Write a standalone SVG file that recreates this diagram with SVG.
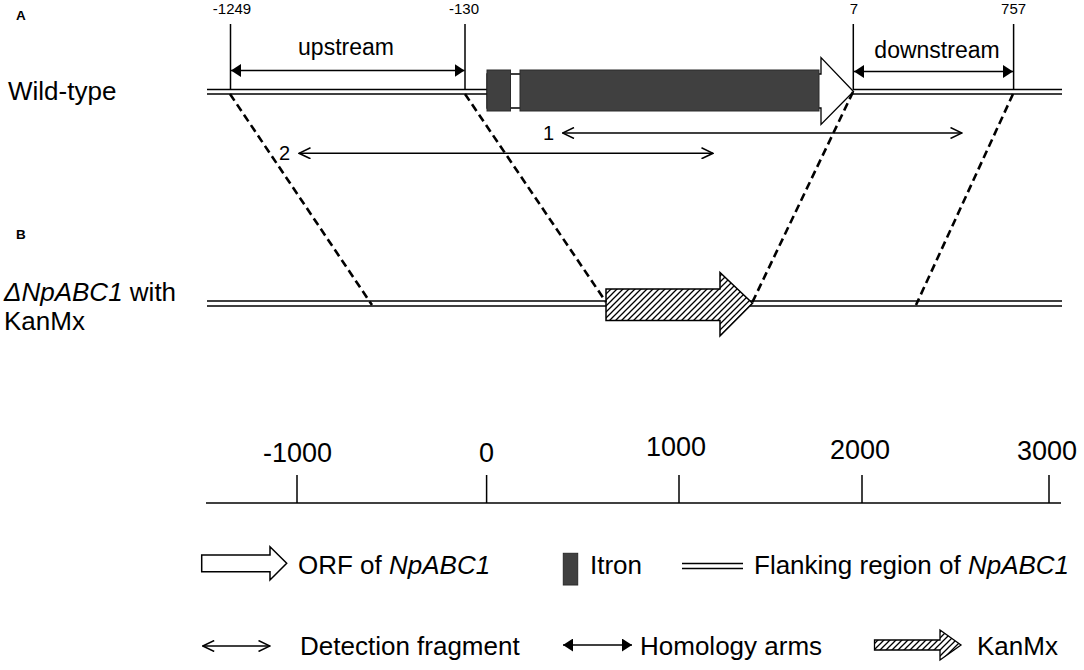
<svg xmlns="http://www.w3.org/2000/svg" width="1084" height="670" viewBox="0 0 1084 670">
<style>
text{font-family:"Liberation Sans",Arial,sans-serif;fill:#000}
.lab{font-size:13.5px;font-weight:bold}
.tick{font-size:15px;text-anchor:middle}
.big{font-size:26px}
.mid{font-size:23px;text-anchor:middle}
.ax{font-size:27px;text-anchor:middle}
.ln{stroke:#000;stroke-width:1.5;fill:none}
.dash{stroke:#000;stroke-width:2.6;stroke-dasharray:8 4.5;fill:none}
.dark{fill:#404040;stroke:#2a2a2a;stroke-width:1}
.ha{stroke:#000;stroke-width:1.5;fill:none;marker-start:url(#hf);marker-end:url(#hf)}
.da{stroke:#000;stroke-width:1.5;fill:none;marker-start:url(#ho);marker-end:url(#ho)}
</style>
<defs>
<marker id="hf" viewBox="0 0 10 13" refX="10" refY="6.5" markerWidth="10" markerHeight="13" orient="auto-start-reverse" markerUnits="userSpaceOnUse"><path d="M0,0 L10,6.5 L0,13 Z" fill="#000"/></marker>
<marker id="ho" viewBox="0 0 13 12" refX="12" refY="6" markerWidth="13" markerHeight="12" orient="auto-start-reverse" markerUnits="userSpaceOnUse"><path d="M0.5,0.5 L12,6 L0.5,11.5" fill="none" stroke="#000" stroke-width="1.5"/></marker>
<pattern id="hatch" patternUnits="userSpaceOnUse" width="6" height="6"><rect width="6" height="6" fill="#fff"/><path d="M0,6 L6,0 M-1,1 L1,-1 M5,7 L7,5" stroke="#000" stroke-width="1.3"/></pattern>
</defs>

<g id="panel-labels">
<text class="lab" x="16" y="19.5">A</text>
<text class="lab" x="16" y="238.5">B</text>
</g>

<g id="position-ticks">
<line class="ln" x1="230.5" y1="24" x2="230.5" y2="90"/>
<line class="ln" x1="465" y1="24" x2="465" y2="90"/>
<line class="ln" x1="853.3" y1="24" x2="853.3" y2="90"/>
<line class="ln" x1="1013.6" y1="24" x2="1013.6" y2="90"/>
<text class="tick" x="232" y="13.5">-1249</text>
<text class="tick" x="464" y="13.5">-130</text>
<text class="tick" x="854" y="13.5">7</text>
<text class="tick" x="1013.6" y="13.5">757</text>
</g>

<g id="wildtype">
<text class="big" x="8" y="100">Wild-type</text>
<line class="ln" x1="207" y1="89.5" x2="488" y2="89.5"/>
<line class="ln" x1="207" y1="94" x2="488" y2="94"/>
<line class="ln" x1="853" y1="89.5" x2="1062" y2="89.5"/>
<line class="ln" x1="853" y1="94" x2="1062" y2="94"/>
</g>

<g id="gene">
<polygon points="487,74 821,74 821,57.5 853.5,91.5 821,124.5 821,108 487,108" fill="#fff" stroke="#000" stroke-width="1.3"/>
<rect class="dark" x="487" y="70" width="23.5" height="41"/>
<rect class="dark" x="520" y="70" width="299" height="41"/>
</g>

<g id="homology-arms">
<line class="ha" x1="231" y1="70.5" x2="464.5" y2="70.5"/>
<text class="mid" x="346" y="55">upstream</text>
<line class="ha" x1="854" y1="71.5" x2="1013" y2="71.5"/>
<text class="mid" x="937" y="58">downstream</text>
</g>

<g id="detection">
<line class="da" x1="562.5" y1="133" x2="962" y2="133"/>
<text class="big" style="font-size:20px" x="543" y="140">1</text>
<line class="da" x1="299" y1="153.3" x2="713" y2="153.3"/>
<text class="big" style="font-size:20px" x="279" y="160">2</text>
</g>

<g id="mutant">
<text class="big" x="4" y="301"><tspan font-style="italic">ΔNpABC1</tspan> with</text>
<text class="big" x="4" y="330">KanMx</text>
<line class="ln" x1="207" y1="301" x2="1062" y2="301"/>
<line class="ln" x1="207" y1="306" x2="1062" y2="306"/>
<polygon points="606,289 720,289 720,272.5 752.5,303.3 720,336 720,320.5 606,320.5" fill="url(#hatch)" stroke="#000" stroke-width="1.5"/>
</g>

<g id="connectors">
<line class="dash" x1="230" y1="94" x2="372" y2="305"/>
<line class="dash" x1="465" y1="94" x2="606" y2="302"/>
<line class="dash" x1="853" y1="92" x2="752" y2="303"/>
<line class="dash" x1="1013" y1="94" x2="916" y2="305"/>
</g>

<g id="scale-axis">
<line class="ln" x1="206" y1="503" x2="1061" y2="503"/>
<line class="ln" x1="297" y1="475" x2="297" y2="503"/>
<line class="ln" x1="486.6" y1="475" x2="486.6" y2="503"/>
<line class="ln" x1="679" y1="475" x2="679" y2="503"/>
<line class="ln" x1="862" y1="475" x2="862" y2="503"/>
<line class="ln" x1="1049" y1="475" x2="1049" y2="503"/>
<text class="ax" x="297.6" y="461.5">-1000</text>
<text class="ax" x="486.6" y="461.5">0</text>
<text class="ax" x="676" y="456">1000</text>
<text class="ax" x="860" y="459">2000</text>
<text class="ax" x="1047" y="460">3000</text>
</g>

<g id="legend">
<polygon points="201.7,555 270,555 270,546.7 286.7,563.3 270,580 270,571.7 201.7,571.7" fill="#fff" stroke="#000" stroke-width="1.5"/>
<text class="big" x="298" y="573.5">ORF of <tspan font-style="italic">NpABC1</tspan></text>
<rect class="dark" x="563.3" y="553.3" width="14.4" height="31.7"/>
<text class="big" x="590" y="573.5">Itron</text>
<line class="ln" x1="682" y1="563.5" x2="743" y2="563.5"/>
<line class="ln" x1="682" y1="568.5" x2="743" y2="568.5"/>
<text class="big" x="754" y="573.5">Flanking region of <tspan font-style="italic">NpABC1</tspan></text>
<line class="da" x1="202.7" y1="646" x2="270" y2="646"/>
<text class="big" x="300" y="654.5">Detection fragment</text>
<line class="ha" x1="563" y1="645" x2="632" y2="645"/>
<text class="big" x="640" y="654.5">Homology arms</text>
<polygon points="874.5,640 940,640 940,630 961,645 940,660 940,650 874.5,650" fill="url(#hatch)" stroke="#000" stroke-width="1.3"/>
<text class="big" x="977" y="654.5">KanMx</text>
</g>
</svg>
